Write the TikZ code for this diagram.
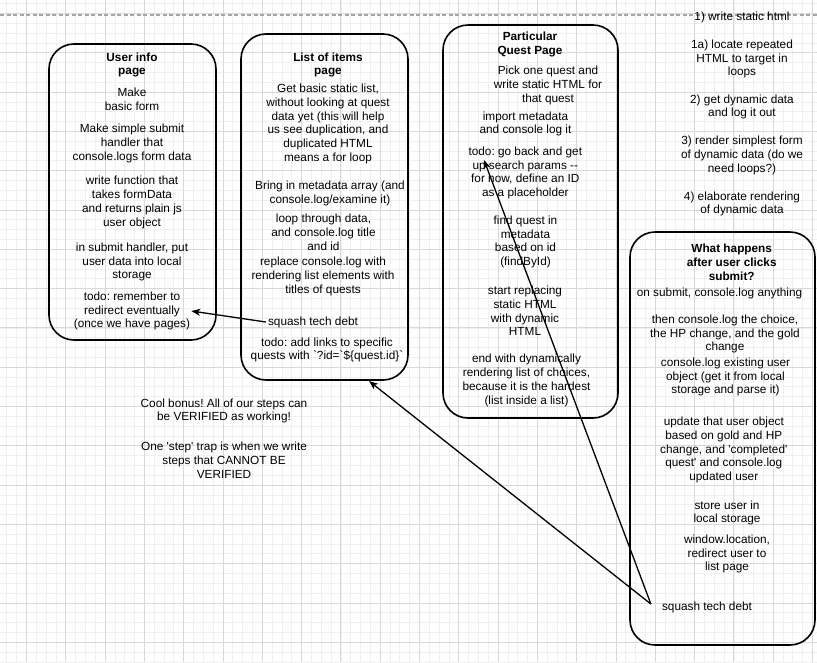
\documentclass[tikz,border=0pt]{standalone}
\usepackage{fontspec}
\setmainfont{Liberation Sans}
\usetikzlibrary{arrows.meta}
\frenchspacing
\begin{document}
\begin{tikzpicture}[x=1pt,y=-1pt,
  minorgrid/.style={draw=black!6, line width=0.8},
  majorgrid/.style={draw=black!15, line width=1},
  pageline/.style={draw=black!35, line width=1.2, dash pattern=on 4pt off 2.5pt},
  txt/.style={align=center, inner sep=0pt, font=\fontsize{11.8}{13.8}\selectfont},
  ttl/.style={align=center, inner sep=0pt, font=\bfseries\fontsize{11.8}{13.8}\selectfont},
  box/.style={draw=black, line width=1.6, rounded corners=25pt, inner sep=0pt, outer sep=0pt},
  arr/.style={draw=black, line width=1.3, -{Stealth[length=9pt,width=7pt,inset=2.5pt]}}
]
\useasboundingbox (0,0) rectangle (817,662);
\fill[white] (0,0) rectangle (817,662);
\begin{scope}
\clip (0,0) rectangle (817,662);
\foreach \i in {0,...,85} { \draw[minorgrid] ({-2.975+\i*9.825},0) -- ++(0,662); }
\foreach \i in {0,...,69} { \draw[minorgrid] (0,{-6.15+\i*9.825}) -- ++(817,0); }
\foreach \i in {0,...,20} { \draw[majorgrid] ({26.5+\i*39.3},0) -- ++(0,662); }
\foreach \i in {0,...,16} { \draw[majorgrid] (0,{13.5+\i*39.3}) -- ++(817,0); }
\draw[pageline] (0,15) -- (817,15);
\end{scope}

% boxes
\node[box, minimum width=167pt, minimum height=296pt] (ubox) at (132.5,192) {};
\node[box, minimum width=167pt, minimum height=346pt] (lbox) at (324.5,207) {};
\node[box, minimum width=175pt, minimum height=393pt] (qbox) at (530.5,221.5) {};
\node[box, minimum width=185pt, minimum height=413pt] (wbox) at (722.5,438.5) {};

% User info page
\node[ttl] (ut) at (132,65) {User info\\page};
\node[txt] (u1) at (132,99) {Make\\basic form};
\node[txt] (u2) at (132,143.5) {Make simple submit\\handler that\\console.logs form data};
\node[txt] (u3) at (132,202.5) {write function that\\takes formData\\and returns plain js\\user object};
\node[txt] (u4) at (132,262) {in submit handler, put\\user data into local\\storage};
\node[txt, inner xsep=1pt] (utodo) at (132,311) {todo: remember to\\redirect eventually\\(once we have pages)};

% List of items page
\node[ttl] (lt) at (328,65) {List of items\\page};
\node[txt] (l1) at (328,124) {Get basic static list,\\without looking at quest\\data yet (this will help\\us see duplication, and\\duplicated HTML\\means a for loop};
\node[txt] (l2) at (330,193.5) {Bring in metadata array (and\\console.log/examine it)};
\node[txt] (l3) at (323.5,232) {loop through data,\\and console.log title\\and id};
\node[txt] (l4) at (323,276.5) {replace console.log with\\rendering list elements with\\titles of quests};
\node[txt, inner xsep=2pt] (lsq) at (313,322) {squash tech debt};
\node[txt] (l5) at (327,350) {todo: add links to specific\\quests with \textasciigrave?id=\textasciigrave\$\{quest.id\}\textasciigrave};

% Particular Quest Page
\node[ttl] (qt) at (530,44.5) {Particular\\Quest Page};
\node[txt] (q1) at (548,85.3) {Pick one quest and\\write static HTML for\\that quest};
\node[txt] (q2) at (525.5,124) {import metadata\\and console log it};
\node[txt] (q3) at (525.3,173) {todo: go back and get\\up search params -{}-\\for now, define an ID\\as a placeholder};
\node[txt] (q4) at (525.5,242) {find quest in\\metadata\\based on id\\(findById)};
\node[txt] (q5) at (525,311) {start replacing\\static HTML\\with dynamic\\HTML};
\node[txt] (q6) at (526.5,380.5) {end with dynamically\\rendering list of choices,\\because it is the hardest\\(list inside a list)};

% What happens after user clicks submit?
\node[ttl] (wt) at (731.7,262.5) {What happens\\after user clicks\\submit?};
\node[txt] (w1) at (719.5,293) {on submit, console.log anything};
\node[txt] (w2) at (725,334) {then console.log the choice,\\the HP change, and the gold\\change};
\node[txt] (w3) at (725.5,377) {console.log existing user\\object (get it from local\\storage and parse it)};
\node[txt] (w4) at (723.8,450) {update that user object\\based on gold and HP\\change, and \textquotesingle completed\textquotesingle\\quest\textquotesingle{} and console.log\\updated user};
\node[txt] (w5) at (727,513) {store user in\\local storage};
\node[txt] (w6) at (727,554) {window.location,\\redirect user to\\list page};
\node[txt] (wsq) at (707,607) {squash tech debt};

% right column steps
\node[txt] (s1) at (742,17) {1) write static html};
\node[txt] (s2) at (742,59) {1a) locate repeated\\HTML to target in\\loops};
\node[txt] (s3) at (742,107) {2) get dynamic data\\and log it out};
\node[txt] (s4) at (742,155.5) {3) render simplest form\\of dynamic data (do we\\need loops?)};
\node[txt] (s5) at (742,204) {4) elaborate rendering\\of dynamic data};

% bottom-left note
\node[txt] (n1) at (224,411) {Cool bonus! All of our steps can\\be VERIFIED as working!};
\node[txt] (n2) at (224,460.5) {One \textquotesingle step\textquotesingle{} trap is when we write\\steps that CANNOT BE\\VERIFIED};

% connectors
\coordinate (ltip) at (369,381);
\coordinate (qtip) at (484,160);
\draw[arr] (lsq.west) -- (utodo.east);
\draw[arr] ([xshift=-11pt,yshift=3pt]wsq.west) -- (ltip);
\draw[arr] ([xshift=-11pt,yshift=3pt]wsq.west) -- (qtip);
\end{tikzpicture}
\end{document}
